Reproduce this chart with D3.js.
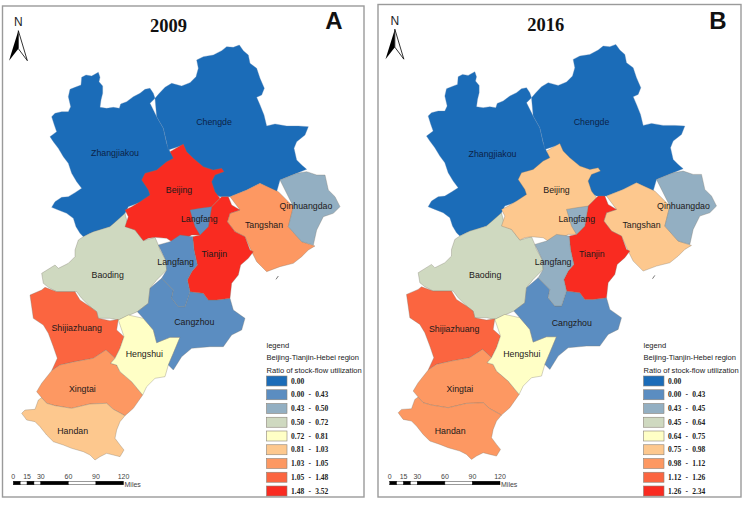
<!DOCTYPE html>
<html>
<head>
<meta charset="utf-8">
<script src="https://cdn.jsdelivr.net/npm/d3@7"></script>
<style>
  html, body { margin: 0; padding: 0; background: #fff; }
  svg { display: block; }
</style>
</head>
<body>
<svg id="chart" width="754" height="512"></svg>
<script>
// region outlines (map units, y down)
const zhangjiakou = [[245,232],[258,225],[275,228],[295,217],[300,232],[297,245],[308,258],[308,280],[303,300],[300,322],[320,325],[340,322],[358,325],[362,312],[380,305],[400,290],[420,280],[435,268],[450,265],[460,280],[465,295],[450,310],[470,350],[490,385],[500,430],[510,455],[530,480],[560,560],[440,600],[385,620],[370,650],[330,680],[300,690],[270,700],[250,710],[240,700],[228,680],[220,655],[200,640],[175,630],[155,622],[165,605],[185,592],[205,590],[225,578],[245,565],[230,545],[215,520],[205,490],[190,470],[175,445],[160,425],[150,410],[170,395],[163,375],[155,350],[165,340],[185,335],[205,335],[212,320],[205,290],[210,268],[225,262],[243,255],[247,240]];
const chengde = [[465,295],[478,280],[495,262],[515,250],[545,258],[570,248],[588,230],[595,205],[590,180],[610,170],[640,165],[665,152],[680,140],[700,142],[718,135],[730,152],[745,165],[750,190],[770,205],[780,235],[793,265],[785,285],[770,292],[780,315],[792,345],[800,378],[825,372],[860,378],[895,378],[925,380],[915,405],[890,425],[882,445],[890,480],[905,495],[920,508],[890,520],[840,540],[830,575],[780,550],[740,570],[690,590],[660,590],[600,560],[550,480],[550,435],[505,450],[490,385],[470,350],[450,310]];
const beijing = [[550,432],[560,455],[580,475],[610,500],[640,510],[665,505],[672,515],[645,525],[635,545],[645,575],[660,595],[635,620],[640,680],[600,705],[575,705],[550,720],[530,735],[500,715],[465,712],[445,715],[430,722],[405,690],[375,680],[385,650],[375,630],[395,620],[420,605],[450,585],[445,570],[425,540],[435,520],[470,510],[500,485],[520,475],[510,455],[535,450]];
const tianjin = [[665,590],[685,590],[695,615],[720,630],[690,640],[682,665],[705,695],[735,710],[750,750],[760,755],[745,775],[722,795],[715,825],[695,850],[690,895],[650,900],[625,900],[610,880],[570,875],[562,840],[575,815],[592,795],[582,750],[578,710],[600,705],[625,680],[635,620],[660,595]];
const langfangNorth = [[570,630],[600,625],[635,620],[625,680],[600,705],[585,680],[575,660]];
const langfangSouth = [[475,735],[510,725],[540,705],[578,710],[582,750],[592,795],[575,815],[562,840],[570,875],[555,920],[535,920],[515,895],[520,870],[485,835],[500,810],[497,780],[480,750]];
const tangshan = [[690,590],[740,570],[780,550],[835,575],[880,620],[865,680],[905,725],[945,738],[925,750],[905,770],[880,790],[840,800],[800,815],[785,800],[770,785],[755,755],[735,710],[705,695],[682,665],[690,640],[720,630],[695,615]];
const qinhuangdao = [[840,540],[890,520],[920,515],[950,525],[975,525],[985,570],[1005,590],[1020,620],[1000,640],[970,650],[950,690],[940,735],[905,725],[865,680],[880,620],[835,570]];
const baoding = [[375,640],[385,680],[405,690],[430,722],[465,712],[475,735],[480,750],[497,780],[500,810],[470,840],[450,865],[445,910],[412,935],[355,960],[330,955],[295,955],[290,935],[270,920],[245,895],[230,875],[170,875],[145,862],[130,850],[125,820],[165,795],[175,805],[205,790],[225,770],[225,750],[235,720],[250,710],[280,695],[330,680],[370,650]];
const cangzhou = [[485,835],[520,870],[515,895],[535,920],[555,920],[570,875],[610,880],[625,900],[650,900],[690,895],[700,930],[735,955],[725,990],[695,1005],[670,1040],[630,1040],[575,1045],[545,1070],[520,1110],[505,1095],[520,1060],[540,1012],[510,1012],[470,1028],[460,990],[430,955],[412,935],[445,910],[450,865],[470,845]];
const shijiazhuang = [[90,885],[125,870],[135,862],[170,875],[225,875],[240,900],[270,920],[290,935],[295,955],[330,962],[355,958],[350,990],[372,1010],[360,1045],[345,1075],[318,1050],[280,1075],[225,1085],[180,1095],[155,1112],[172,1075],[160,1040],[145,1000],[130,975],[100,955],[85,930]];
const hengshui = [[355,960],[385,945],[430,955],[460,990],[470,1028],[510,1012],[540,1012],[520,1060],[505,1095],[495,1130],[465,1135],[440,1160],[428,1185],[395,1145],[360,1115],[350,1095],[332,1090],[345,1075],[360,1045],[372,1010],[350,990]];
const xingtai = [[155,1112],[180,1095],[225,1085],[280,1075],[318,1050],[345,1075],[332,1090],[350,1095],[360,1115],[395,1145],[428,1185],[400,1225],[375,1247],[340,1228],[320,1210],[270,1212],[215,1225],[165,1217],[140,1210],[125,1193],[110,1175],[125,1150],[145,1125]];
const handan = [[65,1240],[75,1230],[105,1228],[115,1200],[125,1193],[140,1210],[165,1217],[215,1225],[270,1212],[320,1210],[340,1228],[375,1247],[360,1265],[350,1290],[345,1315],[360,1335],[372,1350],[360,1370],[340,1365],[320,1360],[300,1370],[285,1380],[270,1365],[250,1355],[215,1345],[190,1335],[160,1325],[140,1305],[120,1280],[105,1265],[80,1260],[62,1245]];

const regionNames = ["Zhangjiakou","Chengde","Baoding","Tangshan","Qinhuangdao","Shijiazhuang","Xingtai","Handan","Hengshui","Cangzhou","Beijing","Tianjin","Langfang"];
const regionShapes = [[zhangjiakou],[chengde],[baoding],[tangshan],[qinhuangdao],[shijiazhuang],[xingtai],[handan],[hengshui],[cangzhou],[beijing],[tianjin],[langfangNorth,langfangSouth]];

// class index of each region into the legend, same order as regionNames
const classes2009 = [0,0,3,6,2,7,6,5,4,1,8,8,1];
const classes2016 = [0,0,3,5,2,7,6,6,4,1,5,8,2];

const labels2009 = ["0.00","0.00 - 0.43","0.43 - 0.50","0.50 - 0.72","0.72 - 0.81","0.81 - 1.03","1.03 - 1.05","1.05 - 1.48","1.48 - 3.52"];
const labels2016 = ["0.00","0.00 - 0.43","0.43 - 0.45","0.45 - 0.64","0.64 - 0.75","0.75 - 0.98","0.98 - 1.12","1.12 - 1.26","1.26 - 2.34"];
const classColors = ["#1b6cb8","#5b8dc1","#93afc2","#cfd9c0","#ffffc6","#fdc88e","#fd9862","#fb6540","#f92b21"];

const mileTicks = [0,15,30,60,90,120];
const mileStops = [0,7.5,15,22.5,30,60,90,120];

const mapLabels = [["Zhangjiakou",345,460],["Chengde",642,365],["Beijing",537,570],["Langfang",598,657],["Langfang",527,785],["Tianjin",643,762],["Tangshan",792,675],["Qinhuangdao",918,618],["Baoding",323,825],["Cangzhou",583,967],["Shijiazhuang",230,985],["Hengshui",433,1062],["Xingtai",247,1166],["Handan",218,1293]];

const panels = [
  { title: "2009", tag: "A", classes: classes2009, legend: labels2009, dx: 0, dy: 0, box: [2.5,6,361.5,491] },
  { title: "2016", tag: "B", classes: classes2016, legend: labels2016, dx: 376.5, dy: -0.6, box: [378,4.5,363,492.5] }
];

const svg = d3.select("#chart");
const sans = "'Liberation Sans', Arial, sans-serif";
const serif = "'Liberation Serif', 'Times New Roman', serif";

panels.forEach(function (p) {
  const g = svg.append("g");

  g.append("rect")
    .attr("x", p.box[0]).attr("y", p.box[1])
    .attr("width", p.box[2]).attr("height", p.box[3])
    .attr("fill", "#fff").attr("stroke", "#9a9a9a").attr("stroke-width", 1.4);

  const projection = d3.geoIdentity().scale(1 / 3).translate([p.dx, p.dy]);
  const path = d3.geoPath(projection);
  const color = d3.scaleOrdinal().domain(d3.range(classColors.length)).range(classColors);

  const features = regionNames.map(function (name, i) {
    return {
      type: "Feature",
      properties: { name: name, cls: p.classes[i] },
      geometry: { type: "MultiPolygon", coordinates: regionShapes[i].map(function (r) { return [r]; }) }
    };
  });

  g.selectAll("path.region")
    .data(features)
    .enter().append("path")
    .attr("class", "region")
    .attr("d", path)
    .attr("fill", function (d) { return color(d.properties.cls); })
    .attr("stroke", function (d) { return d.properties.cls === 0 ? "#5f86b3" : "#7c7468"; })
    .attr("stroke-opacity", 0.65)
    .attr("stroke-width", 0.5)
    .attr("stroke-linejoin", "round");

  // little island off Tangshan
  g.append("path")
    .datum({ type: "LineString", coordinates: [[828,838],[835,828]] })
    .attr("d", path).attr("fill", "none").attr("stroke", "#555").attr("stroke-width", 0.8);

  const labelDx = p.dx ? 1 : 0;
  const labelDy = p.dy ? 1 : 0;
  g.selectAll("text.place")
    .data(mapLabels)
    .enter().append("text")
    .attr("class", "place")
    .attr("x", function (d) { return projection([d[1], d[2]])[0] + labelDx; })
    .attr("y", function (d) { return projection([d[1], d[2]])[1] + labelDy; })
    .attr("dy", "0.35em")
    .attr("text-anchor", "middle")
    .attr("font-family", sans)
    .attr("font-size", 8.8)
    .attr("fill", function (d) { return d[0] === "Zhangjiakou" || d[0] === "Chengde" ? "#0b2348" : "#1d1a1a"; })
    .text(function (d) { return d[0]; });

  // titles
  g.append("text")
    .attr("x", 168.5 + p.dx * 1.002).attr("y", 32 + p.dy * 2.5)
    .attr("text-anchor", "middle")
    .attr("font-family", serif).attr("font-weight", "bold").attr("font-size", 18.5)
    .attr("fill", "#111").text(p.title);
  g.append("text")
    .attr("x", p.tag === "A" ? 334 : 718).attr("y", 29)
    .attr("text-anchor", "middle")
    .attr("font-family", sans).attr("font-weight", "bold").attr("font-size", 24)
    .attr("fill", "#111").text(p.tag);

  // north arrow
  const ax = function (v) { return v / 3 + p.dx; };
  const ay = function (v) { return v / 3 + p.dy * 2.5; };
  g.append("text")
    .attr("x", ax(55)).attr("y", ay(78))
    .attr("text-anchor", "middle")
    .attr("font-family", sans).attr("font-size", 12).attr("fill", "#222").text("N");
  g.append("path")
    .attr("d", d3.line()([[ax(55),ay(92)],[ax(27),ay(182)],[ax(55),ay(146)]]) + "Z")
    .attr("fill", "#000");
  g.append("path")
    .attr("d", d3.line()([[ax(55),ay(92)],[ax(82),ay(182)],[ax(55),ay(146)]]) + "Z")
    .attr("fill", "#fff").attr("stroke", "#000").attr("stroke-width", 0.8);

  // scale bar
  const miles = d3.scaleLinear().domain([0, 120]).range([13.3 + p.dx, 123.5 + p.dx]);
  g.selectAll("rect.bar")
    .data(d3.pairs(mileStops))
    .enter().append("rect")
    .attr("class", "bar")
    .attr("x", function (d) { return miles(d[0]); })
    .attr("y", 481.2)
    .attr("width", function (d) { return miles(d[1]) - miles(d[0]); })
    .attr("height", 3.6)
    .attr("fill", function (d, i) { return i % 2 ? "#fff" : "#000"; })
    .attr("stroke", "#000").attr("stroke-width", 0.4);
  g.selectAll("text.mile")
    .data(mileTicks)
    .enter().append("text")
    .attr("class", "mile")
    .attr("x", function (d) { return miles(d); })
    .attr("y", 479)
    .attr("text-anchor", "middle")
    .attr("font-family", sans).attr("font-size", 7).attr("fill", "#444")
    .text(function (d) { return d; });
  g.append("text")
    .attr("x", miles(120) + 1).attr("y", 486.5)
    .attr("font-family", sans).attr("font-size", 7).attr("fill", "#444").text("Miles");

  // legend
  const lx = 266.5 + p.dx + (p.dx ? 0.5 : 0);
  const head = ["legend", "Beijing-Tianjin-Hebei region", "Ratio of stock-flow utilization"];
  g.selectAll("text.head")
    .data(head)
    .enter().append("text")
    .attr("class", "head")
    .attr("x", lx)
    .attr("y", function (d, i) { return 347.6 + i * 12.5; })
    .attr("font-family", sans).attr("font-size", 7.55).attr("fill", "#222")
    .text(function (d) { return d; });

  const rowY = d3.scaleLinear().domain([0, 8]).range([376, 486]);
  const rows = g.selectAll("g.row")
    .data(p.legend)
    .enter().append("g")
    .attr("class", "row");
  rows.append("rect")
    .attr("x", lx).attr("y", function (d, i) { return rowY(i); })
    .attr("width", 20.5).attr("height", 10)
    .attr("fill", function (d, i) { return classColors[i]; })
    .attr("stroke", "#8a8378").attr("stroke-width", 0.6);
  rows.append("text")
    .attr("x", lx + 24.5).attr("y", function (d, i) { return rowY(i) + 5; })
    .attr("dy", "0.35em")
    .attr("font-family", serif).attr("font-weight", "bold").attr("font-size", 7.5)
    .attr("word-spacing", 2.4)
    .attr("fill", "#222")
    .text(function (d) { return d; });
});
</script>
</body>
</html>
